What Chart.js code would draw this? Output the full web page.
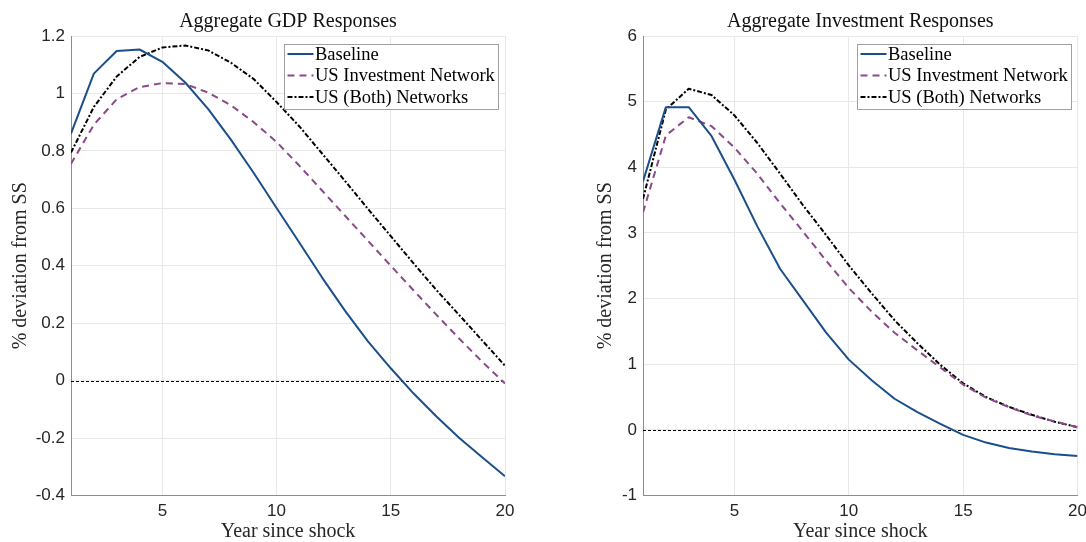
<!DOCTYPE html>
<html>
<head>
<meta charset="utf-8">
<script src="https://cdn.jsdelivr.net/npm/chart.js@4.4.1/dist/chart.umd.min.js"></script>
<style>
  html, body { margin: 0; padding: 0; background: #fff; }
  #wrap { position: relative; width: 1086px; height: 542px; overflow: hidden; }
  .panel { position: absolute; top: 0; height: 542px; }
  #p1 { left: 0; width: 543px; }
  #p2 { left: 543px; width: 570px; }
  canvas { display: block; }
</style>
</head>
<body>
<div id="wrap">
  <div class="panel" id="p1"><canvas id="gdpChart" width="543" height="542"></canvas></div>
  <div class="panel" id="p2"><canvas id="invChart" width="570" height="542"></canvas></div>
</div>
<script>
// Years after the shock
const years = [1, 2, 3, 4, 5, 6, 7, 8, 9, 10, 11, 12, 13, 14, 15, 16, 17, 18, 19, 20];
const xTicks = [5, 10, 15, 20];
const xTickLabels = ['5', '10', '15', '20'];

const seriesNames = ['Baseline', 'US Investment Network', 'US (Both) Networks'];

// Aggregate GDP, % deviation from steady state
const gdpBaseline = [0.860, 1.069, 1.148, 1.153, 1.110, 1.038, 0.946, 0.839, 0.723, 0.601,
                     0.480, 0.358, 0.243, 0.137, 0.043, -0.045, -0.125, -0.200, -0.267, -0.333];
const gdpInvNetwork = [0.755, 0.891, 0.980, 1.022, 1.036, 1.033, 1.003, 0.959, 0.900, 0.831,
                       0.748, 0.661, 0.574, 0.487, 0.400, 0.314, 0.229, 0.146, 0.066, -0.010];
const gdpBothNetworks = [0.794, 0.953, 1.059, 1.127, 1.160, 1.167, 1.150, 1.107, 1.050, 0.970,
                         0.885, 0.790, 0.695, 0.598, 0.503, 0.408, 0.315, 0.228, 0.140, 0.052];
const gdpTicks = [-0.4, -0.2, 0, 0.2, 0.4, 0.6, 0.8, 1, 1.2];
const gdpTickLabels = ['-0.4', '-0.2', '0', '0.2', '0.4', '0.6', '0.8', '1', '1.2'];

// Aggregate investment, % deviation from steady state
const invBaseline = [3.786, 4.916, 4.916, 4.473, 3.810, 3.100, 2.450, 1.970, 1.485, 1.070,
                     0.755, 0.474, 0.270, 0.092, -0.077, -0.194, -0.276, -0.330, -0.372, -0.400];
const invInvNetwork = [3.313, 4.484, 4.763, 4.626, 4.300, 3.900, 3.450, 3.020, 2.580, 2.160,
                       1.800, 1.480, 1.210, 0.950, 0.690, 0.490, 0.347, 0.220, 0.128, 0.040];
const invBothNetworks = [3.517, 4.880, 5.197, 5.100, 4.790, 4.370, 3.900, 3.420, 2.970, 2.505,
                         2.080, 1.670, 1.320, 0.990, 0.710, 0.500, 0.350, 0.230, 0.124, 0.040];
const invTicks = [-1, 0, 1, 2, 3, 4, 5, 6];
const invTickLabels = ['-1', '0', '1', '2', '3', '4', '5', '6'];

const SERIF = "'Liberation Serif', 'Times New Roman', serif";
const SANS = "'Liberation Sans', Arial, sans-serif";

// Dashed reference line at zero
const zeroLine = {
  id: 'zeroLine',
  beforeDatasetsDraw(chart) {
    const { ctx, chartArea } = chart;
    const y = Math.round(chart.scales.y.getPixelForValue(0)) + 0.5;
    ctx.save();
    ctx.strokeStyle = '#000';
    ctx.lineWidth = 1;
    ctx.setLineDash([3, 2]);
    ctx.beginPath();
    ctx.moveTo(chartArea.left, y);
    ctx.lineTo(chartArea.right, y);
    ctx.stroke();
    ctx.restore();
  }
};

// Boxed legend in the upper right corner of the plot area
const boxLegend = {
  id: 'boxLegend',
  afterDatasetsDraw(chart, args, o) {
    const { ctx, chartArea } = chart;
    const sets = chart.data.datasets;
    ctx.save();
    ctx.font = o.font;
    const tw = Math.max(...sets.map(d => ctx.measureText(d.label).width));
    const w = o.padL + o.sample + o.gap + tw + o.padR;
    const h = o.height;
    const x = Math.round(chartArea.right - o.marginR - w);
    const y = Math.round(chartArea.top + o.marginT);
    ctx.fillStyle = '#fff';
    ctx.fillRect(x, y, w, h);
    ctx.strokeStyle = '#a0a0a0';
    ctx.lineWidth = 1;
    ctx.strokeRect(x + 0.5, y + 0.5, Math.round(w), h);
    sets.forEach((d, i) => {
      const cy = y + o.firstRow + o.rowH * i;
      ctx.setLineDash(d.borderDash || []);
      ctx.strokeStyle = d.borderColor;
      ctx.lineWidth = d.borderWidth;
      ctx.beginPath();
      ctx.moveTo(x + o.padL, cy);
      ctx.lineTo(x + o.padL + o.sample, cy);
      ctx.stroke();
      ctx.setLineDash([]);
      ctx.fillStyle = '#000';
      ctx.textBaseline = 'middle';
      ctx.textAlign = 'left';
      ctx.fillText(d.label, x + o.padL + o.sample + o.gap, cy + 1);
    });
    ctx.restore();
  }
};

function makeDatasets(base, inv, both) {
  return [
    { label: seriesNames[0], data: base, borderColor: '#1b4f8b', borderWidth: 2, borderDash: [] },
    { label: seriesNames[1], data: inv, borderColor: '#8a4a8a', borderWidth: 2, borderDash: [7, 5] },
    { label: seriesNames[2], data: both, borderColor: '#000000', borderWidth: 2, borderDash: [5, 2, 2, 2] }
  ];
}

function makeChart(canvasId, titleText, base, inv, both, yMin, yMax, yTicks, yLabels, layout) {
  return new Chart(document.getElementById(canvasId), {
    type: 'line',
    data: { labels: years, datasets: makeDatasets(base, inv, both) },
    options: {
      responsive: false,
      animation: false,
      events: [],
      layout: { padding: { left: layout.padLeft, right: layout.padRight, top: 0, bottom: 0 } },
      elements: {
        point: { radius: 0 },
        line: { tension: 0, fill: false, borderJoinStyle: 'round' }
      },
      plugins: {
        legend: { display: false },
        tooltip: { enabled: false },
        title: {
          display: true,
          fullSize: false,
          text: titleText,
          color: '#111',
          font: { family: SERIF, size: 20, weight: 'normal', lineHeight: 1.2 },
          padding: { top: 10, bottom: 2 }
        },
        boxLegend: {
          font: "18.5px " + SERIF,
          padL: 3.5, sample: 26, gap: 1.5, padR: 3,
          height: 65, firstRow: 10, rowH: 21.5,
          marginR: layout.legendMarginR, marginT: 8
        }
      },
      scales: {
        x: {
          type: 'linear',
          min: 1,
          max: 20,
          afterBuildTicks: s => { s.ticks = xTicks.map(v => ({ value: v })); },
          afterFit: s => { s.height = 46.5; },
          ticks: {
            color: '#262626',
            font: { family: SANS, size: 17 },
            padding: 6,
            maxRotation: 0,
            autoSkip: false,
            callback: (v, i) => xTickLabels[i]
          },
          grid: { color: '#e8e8e8', lineWidth: 1, drawTicks: false },
          border: { display: true, color: '#8c8c8c', width: 1 },
          title: {
            display: true,
            text: 'Year since shock',
            color: '#262626',
            font: { family: SERIF, size: 20, lineHeight: 1.0 },
            padding: { top: 0, bottom: 0 }
          }
        },
        y: {
          type: 'linear',
          min: yMin,
          max: yMax,
          afterBuildTicks: s => { s.ticks = yTicks.map(v => ({ value: v })); },
          afterFit: s => { s.width = layout.yWidth; },
          ticks: {
            color: '#262626',
            font: { family: SANS, size: 17 },
            padding: 6,
            autoSkip: false,
            callback: (v, i) => yLabels[i]
          },
          grid: { color: '#e8e8e8', lineWidth: 1, drawTicks: false },
          border: { display: true, color: '#8c8c8c', width: 1 },
          title: {
            display: true,
            text: '% deviation from SS',
            color: '#262626',
            font: { family: SERIF, size: 20, lineHeight: 1.1 },
            padding: { top: 10, bottom: 0 }
          }
        }
      }
    },
    plugins: [zeroLine, boxLegend]
  });
}

makeChart('gdpChart', 'Aggregate GDP Responses', gdpBaseline, gdpInvNetwork, gdpBothNetworks,
  -0.4, 1.2, gdpTicks, gdpTickLabels,
  { padLeft: 0, padRight: 38, yWidth: 71, legendMarginR: 7.5 });

makeChart('invChart', 'Aggregate Investment Responses', invBaseline, invInvNetwork, invBothNetworks,
  -1, 6, invTicks, invTickLabels,
  { padLeft: 42, padRight: 35.5, yWidth: 58, legendMarginR: 7 });
</script>
</body>
</html>
